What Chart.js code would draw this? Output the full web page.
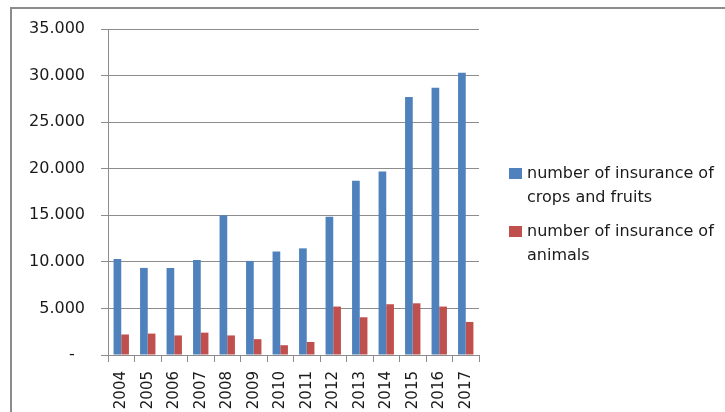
<!DOCTYPE html>
<html>
<head>
<meta charset="utf-8">
<script src="https://cdn.jsdelivr.net/npm/chart.js@4"></script>
<style>
  body { margin: 0; background: #fff; }
  #wrap { position: relative; width: 725px; height: 412px; overflow: hidden; }
  #frame { position: absolute; left: 10px; top: 7px; width: 800px; height: 500px;
           border-left: 2px solid #8c8c8c; border-top: 2px solid #8c8c8c; }
  #chart { position: absolute; left: 0; top: 0; }
</style>
</head>
<body>
<div id="wrap">
  <div id="frame"></div>
  <canvas id="chart" width="725" height="412"></canvas>
</div>
<script>
const years = ['2004', '2005', '2006', '2007', '2008', '2009', '2010',
               '2011', '2012', '2013', '2014', '2015', '2016', '2017'];
const cropsValues = [10300, 9350, 9350, 10200, 15000, 10100, 11100,
                     11450, 14850, 18700, 19700, 27700, 28700, 30300];
const animalsValues = [2200, 2300, 2100, 2400, 2100, 1700, 1050,
                       1400, 5200, 4050, 5450, 5550, 5200, 3550];
const cropsLabel = ['number of insurance of', 'crops and fruits'];
const animalsLabel = ['number of insurance of', 'animals'];
const yMax = 35000;
const yStep = 5000;

const GRID = '#8c8c8c';
const FONT = 'DejaVu Sans';

// legend on the right, two-line labels
const sideLegend = {
  id: 'sideLegend',
  afterDraw(chart) {
    const ctx = chart.ctx;
    const tops = [168, 226];
    ctx.save();
    ctx.font = '16px "' + FONT + '"';
    ctx.textBaseline = 'middle';
    chart.data.datasets.forEach((ds, i) => {
      const y = tops[i];
      ctx.fillStyle = ds.backgroundColor;
      ctx.fillRect(509, y, 13, 11);
      ctx.fillStyle = '#1a1a1a';
      ds.label.forEach((line, j) => {
        ctx.fillText(line, 527, y + 6 + j * 23.5);
      });
    });
    ctx.restore();
  }
};

const ctx = document.getElementById('chart').getContext('2d');
new Chart(ctx, {
  type: 'bar',
  data: {
    labels: years,
    datasets: [
      { label: cropsLabel, data: cropsValues, backgroundColor: '#4f81bd',
        categoryPercentage: 0.58, barPercentage: 1 },
      { label: animalsLabel, data: animalsValues, backgroundColor: '#c0504d',
        categoryPercentage: 0.58, barPercentage: 1 }
    ]
  },
  options: {
    responsive: false,
    animation: false,
    layout: { padding: { left: 0, top: 29, right: 246, bottom: 0 } },
    plugins: {
      legend: { display: false },
      tooltip: { enabled: false }
    },
    scales: {
      x: {
        grid: { display: true, drawOnChartArea: false, drawTicks: true,
                tickLength: 7, color: GRID, offset: true },
        border: { display: true, color: GRID },
        ticks: { minRotation: 90, maxRotation: 90, padding: 9, color: '#1a1a1a',
                 font: { family: FONT, size: 15 } },
        afterFit(scale) { scale.height = 57; }
      },
      y: {
        min: 0,
        max: yMax,
        grid: { color: GRID, tickLength: 7 },
        border: { display: true, color: GRID },
        ticks: {
          stepSize: yStep,
          padding: 16,
          color: '#1a1a1a',
          font: { family: FONT, size: 16 },
          callback: v => v === 0 ? '-  ' : (v / 1000).toFixed(3)
        },
        afterFit(scale) { scale.width = 108; }
      }
    }
  },
  plugins: [sideLegend]
});
</script>
</body>
</html>
